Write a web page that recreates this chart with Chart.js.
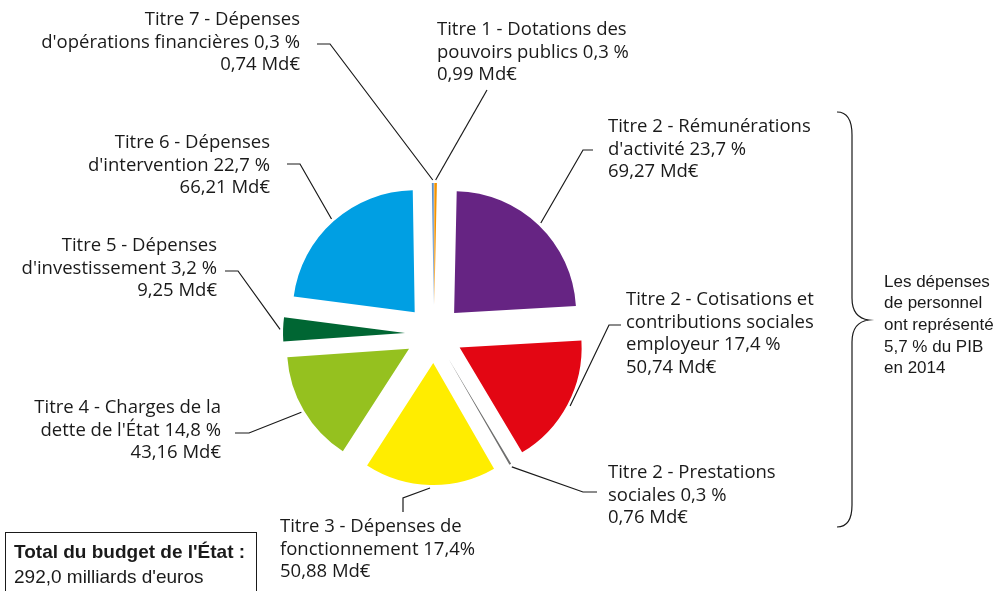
<!DOCTYPE html>
<html>
<head>
<meta charset="utf-8">
<script src="https://cdn.jsdelivr.net/npm/chart.js@4"></script>
<style>
  body { margin: 0; background: #fff; }
  #wrap { position: relative; width: 997px; height: 591px; }
</style>
</head>
<body>
<div id="wrap"><canvas id="budget" width="997" height="591"></canvas></div>
<script>
// données (Md€), dans l'ordre du camembert en partant du haut
var categories = [
  'Titre 1 - Dotations des\npouvoirs publics',
  'Titre 2 - Rémunérations\nd\'activité',
  'Titre 2 - Cotisations et\ncontributions sociales\nemployeur',
  'Titre 2 - Prestations\nsociales',
  'Titre 3 - Dépenses de\nfonctionnement',
  'Titre 4 - Charges de la\ndette de l\'État',
  'Titre 5 - Dépenses\nd\'investissement',
  'Titre 6 - Dépenses\nd\'intervention',
  'Titre 7 - Dépenses\nd\'opérations financières'
];
var montants = [0.99, 69.27, 50.74, 0.76, 50.88, 43.16, 9.25, 66.21, 0.74];
var parts = ['0,3 %', '23,7 %', '17,4 %', '0,3 %', '17,4%', '14,8 %', '3,2 %', '22,7 %', '0,3 %'];
var couleurs = ['#F39200', '#662483', '#E30613', '#6F6F6E', '#FFED00', '#95C11F', '#006633', '#009FE3', '#5B8FC9'];

var totalTitre = 'Total du budget de l\'État :';
var totalTexte = '292,0 milliards d\'euros';
var noteTexte = ['Les dépenses', 'de personnel', 'ont représenté', '5,7 % du PIB', 'en 2014'];

// mise en page des étiquettes (x, y du milieu de la 1re ligne, alignement, coude du trait)
var EXPLODE = 29;
var etiquettes = [
  { x: 437, y: 30,  align: 'left',  trait: [[487, 90]] },
  { x: 608, y: 127, align: 'left',  trait: [[583, 150], [593, 150]] },
  { x: 626, y: 300, align: 'left',  trait: [[609, 325], [621, 325]] },
  { x: 608, y: 473, align: 'left',  trait: [[583, 492], [597, 492]] },
  { x: 280, y: 527, align: 'left',  trait: [[403, 498], [403, 512]] },
  { x: 221, y: 408, align: 'right', trait: [[249, 433], [235, 433]] },
  { x: 217, y: 246, align: 'right', trait: [[238, 271], [225, 271]] },
  { x: 270, y: 143, align: 'right', trait: [[300, 164], [287, 164]] },
  { x: 300, y: 20,  align: 'right', trait: [[330, 44], [317, 44]] }
];

var formatMd = function(v){
  return v.toFixed(2).replace('.', ',') + ' Md€';
};

var lignesEtiquette = function(i){
  var l = categories[i].split('\n');
  l[l.length - 1] += ' ' + parts[i];
  l.push(formatMd(montants[i]));
  return l;
};

// dessine chaque part décalée du centre (camembert éclaté)
var explosePlugin = {
  id: 'explose',
  beforeDatasetDraw: function(chart, args){
    var ctx = chart.ctx;
    args.meta.data.forEach(function(arc){
      var mid = (arc.startAngle + arc.endAngle) / 2;
      ctx.save();
      ctx.translate(Math.cos(mid) * EXPLODE, Math.sin(mid) * EXPLODE);
      arc.draw(ctx);
      ctx.restore();
    });
    return false;
  }
};

var etiquettesPlugin = {
  id: 'etiquettes',
  afterDraw: function(chart){
    var ctx = chart.ctx;
    var arcs = chart.getDatasetMeta(0).data;

    ctx.save();
    ctx.strokeStyle = '#1a1a1a';
    ctx.lineWidth = 1.2;
    ctx.fillStyle = '#1a1a1a';
    ctx.font = '18.5px "Open Sans"';
    ctx.textBaseline = 'middle';

    arcs.forEach(function(arc, i){
      var mid = (arc.startAngle + arc.endAngle) / 2;
      var d = EXPLODE + arc.outerRadius + 3;
      var et = etiquettes[i];

      ctx.beginPath();
      ctx.moveTo(arc.x + Math.cos(mid) * d, arc.y + Math.sin(mid) * d);
      et.trait.forEach(function(p){ ctx.lineTo(p[0], p[1]); });
      ctx.stroke();

      ctx.textAlign = et.align;
      lignesEtiquette(i).forEach(function(t, k){
        ctx.fillText(t, et.x, et.y + k * 22.5);
      });
    });

    // encadré total
    ctx.lineWidth = 1;
    ctx.strokeRect(5.5, 532.5, 251, 70);
    ctx.textAlign = 'left';
    ctx.font = 'bold 19px "Liberation Sans"';
    ctx.fillText(totalTitre, 14, 553);
    ctx.font = '19px "Liberation Sans"';
    ctx.fillText(totalTexte, 14, 578);

    // accolade
    ctx.lineWidth = 1.2;
    ctx.beginPath();
    ctx.moveTo(837, 112);
    ctx.quadraticCurveTo(852, 112, 852, 135);
    ctx.lineTo(852, 298);
    ctx.quadraticCurveTo(852, 318, 869, 320);
    ctx.quadraticCurveTo(852, 322, 852, 342);
    ctx.lineTo(852, 505);
    ctx.quadraticCurveTo(852, 527, 837, 527);
    ctx.stroke();

    ctx.font = '17px "Liberation Sans"';
    noteTexte.forEach(function(t, k){
      ctx.fillText(t, 884, 282 + k * 21.7);
    });
    ctx.restore();
  }
};

var budgetChart = new Chart(document.getElementById('budget'), {
  type: 'pie',
  data: {
    labels: categories,
    datasets: [{
      data: montants,
      backgroundColor: couleurs,
      borderWidth: 0,
      offset: 0,
      hoverOffset: 0
    }]
  },
  options: {
    responsive: false,
    animation: false,
    events: [],
    layout: { padding: { left: 312, right: 441, top: 212, bottom: 135 } },
    plugins: {
      legend: { display: false },
      tooltip: { enabled: false }
    }
  },
  plugins: [explosePlugin, etiquettesPlugin]
});
</script>
</body>
</html>
